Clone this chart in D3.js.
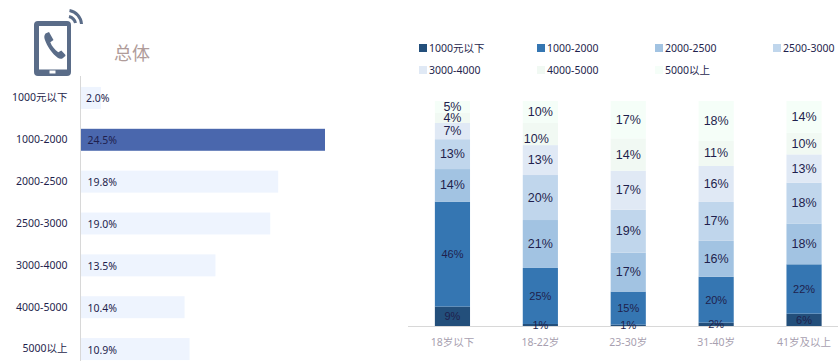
<!DOCTYPE html>
<html><head><meta charset="utf-8">
<script src="https://cdn.jsdelivr.net/npm/d3@7/dist/d3.min.js"></script>
<style>html,body{margin:0;padding:0;background:#fff}svg{display:block}</style>
</head><body><svg id="c" width="838" height="361"></svg>
<script>
const priceBands = ["1000元以下","1000-2000","2000-2500","2500-3000","3000-4000","4000-5000","5000以上"];
const overall = [2.0,24.5,19.8,19.0,13.5,10.4,10.9];
const ageGroups = ["18岁以下","18-22岁","23-30岁","31-40岁","41岁及以上"];
const below1000 = [8.6,0.9,0.6,1.5,5.5];
const s1000_2000 = [46.4,24.9,14.7,20.4,22.0];
const s2000_2500 = [14.4,21.3,17.3,16.0,18.2];
const s2500_3000 = [13.2,20.0,19.1,17.3,18.2];
const s3000_4000 = [7.2,13.3,17.3,16.0,12.6];
const s4000_5000 = [4.4,9.8,14.4,11.1,9.6];
const above5000 = [5.3,9.8,16.6,17.8,14.2];
const seriesValues = [below1000,s1000_2000,s2000_2500,s2500_3000,s3000_4000,s4000_5000,above5000];
const seriesColors = ["#234f7b","#3576b2","#a2c3e2","#c0d6ec","#e0e9f5","#f1f9f3","#f5fef8"];
const textFont = "'Noto Sans','Noto Sans CJK SC',sans-serif";
const navy = "#1f1f4d";

const svg = d3.select("#c");

// phone icon
const icon = svg.append("g").attr("fill","#5a6c88");
icon.append("path").attr("fill-rule","evenodd").attr("d",
 "M38 21H67a4 4 0 0 1 4 4V72a4 4 0 0 1-4 4H38a4 4 0 0 1-4-4V25a4 4 0 0 1 4-4Z"+
 "M39 26V69.5H67V26ZM49.5 70.5V73.5H55.5V70.5Z");
icon.append("path").attr("d","M45.5 33.5l3.5 -1.5 4.5 8 -3.2 2.2c1.5 4 4.5 7.5 8 10l3 -1.6 3.8 3.8c.6 .8 .4 1.6 -.4 2.2l-2 1.6c-1.5 1 -3.5 .6 -5 -.4 -5.5 -4 -10.5 -11 -13 -18.5 -.6 -2 -.6 -4 .8 -5.8Z");
const wifi = svg.append("g").attr("fill","none").attr("stroke","#5a6c88").attr("stroke-width",3);
wifi.append("path").attr("d","M69 16.5a9 9 0 0 1 6.5 6.5");
wifi.append("path").attr("d","M69.5 10.5a14.5 14.5 0 0 1 12 13.5");

svg.append("text").attr("x",114).attr("y",60).text("总体")
  .attr("font-family","'Noto Sans CJK SC',sans-serif").attr("font-size",18)
  .attr("font-weight",400).attr("fill","#b09c9a");

// left bars
const yL = d3.scaleBand().domain(priceBands).range([77,370]).paddingInner(0.475).paddingOuter(0.2375);
const xL = d3.scaleLinear().domain([0,24.5]).range([81,325]);
svg.append("g").selectAll("rect").data(overall).join("rect")
  .attr("x",xL(0)).attr("y",(d,i)=>yL(priceBands[i]))
  .attr("width",d=>xL(d)-xL(0)).attr("height",yL.bandwidth())
  .attr("fill",d=>d===d3.max(overall)?"#4a67ad":"#eef4fe");
svg.append("g").selectAll("text").data(overall).join("text")
  .attr("x",(d,i)=>i===0?86:87.5).attr("y",(d,i)=>yL(priceBands[i])+yL.bandwidth()/2+0.5)
  .attr("dominant-baseline","central").attr("font-family",textFont).attr("font-size",10.5)
  .attr("fill",navy).text(d=>d3.format(".1f")(d)+"%");
const axL = svg.append("g").attr("transform","translate(80.5,0)")
  .call(d3.axisLeft(yL).tickSize(0).tickPadding(13));
axL.select(".domain").attr("stroke","#d8d8d8").attr("d","M0,76V361");
axL.selectAll("text").attr("font-family",textFont).attr("font-size",10.5).attr("fill",navy);

// stacked columns
const rows = ageGroups.map((g,i)=>{const o={group:g};priceBands.forEach((b,k)=>o[b]=seriesValues[k][i]);return o;});
const stacked = d3.stack().keys(priceBands).offset(d3.stackOffsetExpand)(rows);
const xR = d3.scaleBand().domain(ageGroups).range([408.5,848]).paddingInner(0.6).paddingOuter(0.3);
const yR = d3.scaleLinear().domain([0,1]).range([326,101]);
const layers = svg.append("g").selectAll("g").data(stacked).join("g").attr("fill",(d,i)=>seriesColors[i]);
layers.selectAll("rect").data(d=>d).join("rect")
  .attr("x",d=>xR(d.data.group)).attr("width",xR.bandwidth())
  .attr("y",d=>yR(d[1])).attr("height",d=>yR(d[0])-yR(d[1]));
const axR = svg.append("g").attr("transform","translate(0,326.5)")
  .call(d3.axisBottom(xR).tickSize(0).tickPadding(12));
axR.select(".domain").attr("stroke","#d8d8d8").attr("d","M408,0H838");
axR.selectAll("text").attr("font-family",textFont).attr("font-size",10.5).attr("fill","#a89fb0");
const labels = svg.append("g").attr("text-anchor","middle").attr("font-family","'Liberation Sans',Arial,sans-serif").attr("fill",navy);
stacked.forEach((layer,k)=>{
  const moved = (i)=>k===5&&i===1; // the reference nudges this one label off its segment centre
  labels.append("g").attr("font-size",k<2?11:12.5).selectAll("text").data(layer).join("text")
    .attr("x",(d,i)=>xR(d.data.group)+xR.bandwidth()/2-(moved(i)?4:0))
    .attr("y",(d,i)=>(yR(d[0])+yR(d[1]))/2+(moved(i)?5:0)).attr("dominant-baseline","central")
    .text((d,i)=>d3.format(".0f")(seriesValues[k][i])+"%");
});

// legend
const legend = svg.append("g").selectAll("g").data(priceBands).join("g")
  .attr("transform",(d,i)=>`translate(${419+(i%4)*118},${i<4?44:66})`);
legend.append("rect").attr("width",8).attr("height",8).attr("fill",(d,i)=>seriesColors[i]);
legend.append("text").attr("x",10).attr("y",3.5).attr("dominant-baseline","central")
  .attr("font-family",textFont).attr("font-size",10.5).attr("fill",navy).text(d=>d);
</script></body></html>
